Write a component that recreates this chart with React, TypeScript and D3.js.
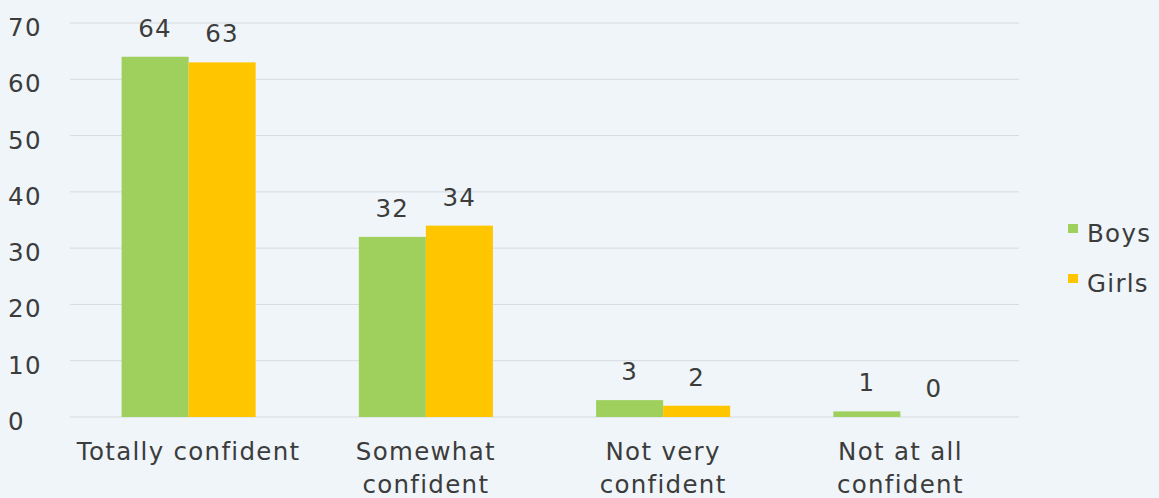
import React from "react";
import * as d3 from "d3";

const categories = [["Totally confident"], ["Somewhat", "confident"], ["Not very", "confident"], ["Not at all", "confident"]];
const seriesNames = ["Boys", "Girls"];
const boys = [64, 32, 3, 1];
const girls = [63, 34, 2, 0];
const yTicks = [0, 10, 20, 30, 40, 50, 60, 70];
const colors = ["#9fd05d", "#ffc600"];

const W = 1159, H = 498;
const font = "'DejaVu Sans', 'Open Sans', sans-serif";
const fs = 24.5;
const ls = 1.3;
const tc = "#3c3c3c";

export default function App() {
  const left = 70, right = 1019, top = 23, bottom = 417;
  const x = d3.scaleBand<number>().domain(d3.range(categories.length)).range([left, right]).paddingInner(0.435).paddingOuter(0.2175);
  const y = d3.scaleLinear().domain([0, 70]).range([bottom, top]);
  const xs = d3.scaleBand<number>().domain([0, 1]).range([0, x.bandwidth()]);
  const series = [boys, girls];
  return (
    <svg width={W} height={H} style={{ position: "absolute", left: 0, top: 0, background: "#eff5f8" }} fontFamily={font}>
      <rect width={W} height={H} fill="#eff5f8" />
      {yTicks.map((t) => (
        <g key={t}>
          <line x1={left} x2={right} y1={y(t)} y2={y(t)} stroke="#d6dbdf" strokeWidth={1} />
          <text x={8} y={y(t) + 13} fontSize={fs} letterSpacing={ls} fill={tc}>{t}</text>
        </g>
      ))}
      {categories.map((c, i) => (
        <g key={i}>
          {series.map((s, j) => {
            const bx = (x(i) as number) + (xs(j) as number);
            return (
              <g key={j}>
                {s[i] > 0 && <rect x={bx} y={y(s[i])} width={xs.bandwidth()} height={bottom - y(s[i])} fill={colors[j]} />}
                <text x={bx + xs.bandwidth() / 2} y={y(s[i]) - 20} textAnchor="middle" fontSize={fs} letterSpacing={ls} fill={tc}>{s[i]}</text>
              </g>
            );
          })}
          {c.map((line, k) => (
            <text key={k} x={(x(i) as number) + x.bandwidth() / 2} y={460 + k * 33} textAnchor="middle" fontSize={fs} letterSpacing={ls} fill={tc}>{line}</text>
          ))}
        </g>
      ))}
      {seriesNames.map((n, j) => (
        <g key={n} transform={`translate(1068, ${242 + j * 50})`}>
          <rect x={0} y={-18} width={10} height={9} fill={colors[j]} />
          <text x={19} y={0} fontSize={fs} letterSpacing={ls} fill={tc}>{n}</text>
        </g>
      ))}
    </svg>
  );
}
